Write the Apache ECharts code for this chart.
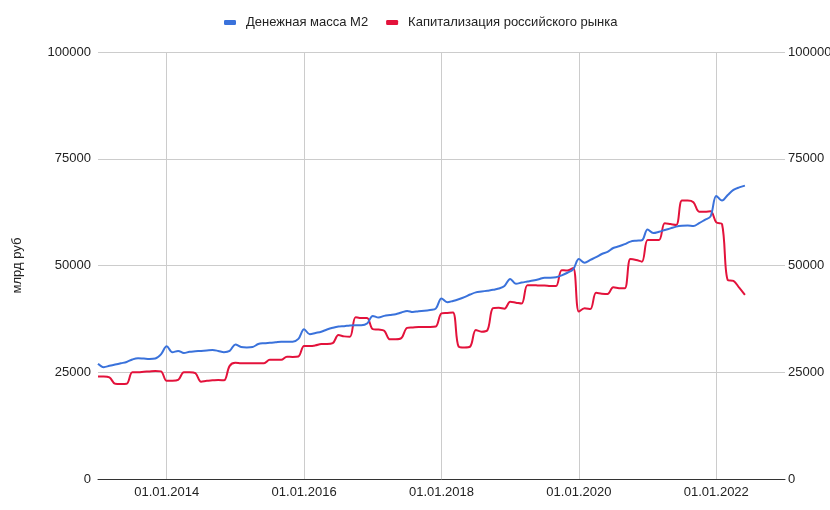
<!DOCTYPE html>
<html>
<head>
<meta charset="utf-8">
<script src="https://cdn.jsdelivr.net/npm/echarts@6/dist/echarts.min.js"></script>
<style>
  html, body { margin: 0; padding: 0; background: #fff; }
  #chart { width: 830px; height: 510px; }
</style>
</head>
<body>
<div id="chart"></div>
<script>
// monthly points, Jan 2013 .. Jun 2022 (axis runs to Jan 2023)
const startYear = 2013;
const monthCount = 121;

const m2Values = [
  27000, 26200, 26500, 26800, 27100, 27400, 28000, 28300, 28200, 28100, 28200, 29200,
  31100, 29700, 30000, 29500, 29800, 29900, 30000, 30100, 30200, 30000, 29700, 30000,
  31500, 30900, 30800, 30900, 31600, 31800, 31900, 32000, 32150, 32150, 32150, 32800,
  35050, 33900, 34200, 34500, 35000, 35400, 35700, 35800, 35950, 36000, 36000, 36400,
  38200, 37800, 38200, 38400, 38600, 39000, 39350, 39100, 39300, 39400, 39600, 39900,
  42300, 41400, 41700, 42100, 42600, 43200, 43700, 43900, 44100, 44300, 44600, 45200,
  46850, 45700, 46000, 46250, 46500, 46800, 47150, 47150, 47250, 47700, 48300, 49100,
  51500, 50650, 51300, 51950, 52700, 53200, 54100, 54500, 55000, 55600, 55800, 55900,
  58450, 57600, 57900, 58300, 58700, 59100, 59300, 59350, 59250, 59900, 60700, 61500,
  66300, 65200, 66500, 67700, 68300, 68700
];

const capValues = [
  24000, 24000, 23800, 22300, 22250, 22300, 25000, 25000, 25100, 25200, 25300, 25200,
  23000, 23000, 23200, 25000, 25000, 24800, 22800, 23000, 23100, 23200, 23100, 26500,
  27200, 27100, 27100, 27100, 27100, 27100, 27900, 27900, 27900, 28650, 28600, 28700,
  31150, 31150, 31300, 31600, 31600, 31800, 33700, 33400, 33300, 37900, 37700, 37700,
  35100, 35000, 34700, 32700, 32700, 33000, 35400, 35500, 35600, 35600, 35600, 35700,
  38800, 38900, 39000, 31000, 30800, 31000, 34900, 34500, 34800, 40000, 40100, 39900,
  41500, 41300, 41100, 45400, 45400, 45300, 45300, 45200, 45200, 48900, 48800, 49400,
  39200, 40000, 39800, 43600, 43400, 43300, 44900, 44700, 44650, 51500, 51300, 50900,
  56000, 56000, 56000, 59900, 59700, 59500, 65200, 65200, 64800, 62600, 62600, 62700,
  60100, 59700, 46600, 46400, 44800, 43100
];

const yTicks = [0, 25000, 50000, 75000, 100000];

const months = [];
for (let i = 0; i < monthCount; i++) {
  const y = startYear + Math.floor(i / 12);
  const m = (i % 12) + 1;
  months.push('01.' + (m < 10 ? '0' + m : m) + '.' + y);
}

// label + gridline only on 1 January of even years
const showTick = (idx) => idx % 24 === 12;

const chart = echarts.init(document.getElementById('chart'));

const valueAxis = (pos) => ({
  type: 'value',
  position: pos,
  min: yTicks[0],
  max: yTicks[yTicks.length - 1],
  interval: 25000,
  axisLine: { show: false },
  axisTick: { show: false },
  axisLabel: { color: '#222', fontSize: 13, margin: pos === 'left' ? 7 : 3, formatter: (v) => String(v) },
  splitLine: { show: pos === 'left', lineStyle: { color: '#cccccc', width: 1 } }
});

chart.setOption({
  textStyle: { fontFamily: 'Liberation Sans, Arial, sans-serif' },
  animation: false,
  legend: {
    top: 11,
    left: 219,
    itemWidth: 12,
    itemHeight: 5,
    itemGap: 18,
    icon: 'roundRect',
    textStyle: { fontSize: 13, color: '#222', padding: [0, 0, 0, 5] },
    data: ['Денежная масса M2', 'Капитализация российского рынка']
  },
  grid: { left: 98, right: 45, top: 52, bottom: 31, outerBoundsMode: 'none' },
  xAxis: {
    type: 'category',
    boundaryGap: false,
    data: months,
    axisLine: { lineStyle: { color: '#333', width: 1 } },
    axisTick: { show: false },
    axisLabel: {
      color: '#222',
      fontSize: 13,
      margin: 7,
      interval: (idx) => showTick(idx)
    },
    splitLine: {
      show: true,
      interval: (idx) => showTick(idx),
      lineStyle: { color: '#cccccc', width: 1 }
    }
  },
  yAxis: [
    Object.assign(valueAxis('left'), {
      name: 'млрд руб',
      nameLocation: 'middle',
      nameRotate: 90,
      nameGap: 74,
      nameTextStyle: { fontSize: 13, color: '#222' }
    }),
    valueAxis('right')
  ],
  series: [
    {
      name: 'Денежная масса M2',
      type: 'line',
      data: m2Values,
      yAxisIndex: 0,
      showSymbol: false,
      smooth: 0.35,
      itemStyle: { color: '#3a72db' },
      lineStyle: { color: '#3a72db', width: 2 },
      z: 3
    },
    {
      name: 'Капитализация российского рынка',
      type: 'line',
      data: capValues,
      yAxisIndex: 0,
      showSymbol: false,
      smooth: 0.35,
      itemStyle: { color: '#e3123b' },
      lineStyle: { color: '#e3123b', width: 2 },
      z: 2
    }
  ]
});
</script>
</body>
</html>
